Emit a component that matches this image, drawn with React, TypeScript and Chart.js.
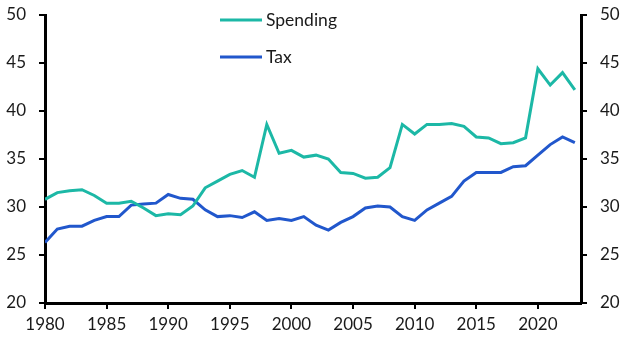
import React, { useEffect, useRef } from "react";
import { Chart, registerables } from "chart.js";

Chart.register(...registerables);

const years = [
  1980, 1981, 1982, 1983, 1984, 1985, 1986, 1987, 1988, 1989,
  1990, 1991, 1992, 1993, 1994, 1995, 1996, 1997, 1998, 1999,
  2000, 2001, 2002, 2003, 2004, 2005, 2006, 2007, 2008, 2009,
  2010, 2011, 2012, 2013, 2014, 2015, 2016, 2017, 2018, 2019,
  2020, 2021, 2022, 2023,
];

const spending = [
  30.8, 31.5, 31.7, 31.8, 31.2, 30.4, 30.4, 30.6, 29.9, 29.1,
  29.3, 29.2, 30.1, 32.0, 32.7, 33.4, 33.8, 33.1, 38.6, 35.6,
  35.9, 35.2, 35.4, 35.0, 33.6, 33.5, 33.0, 33.1, 34.1, 38.6,
  37.6, 38.6, 38.6, 38.7, 38.4, 37.3, 37.2, 36.6, 36.7, 37.2,
  44.4, 42.7, 44.0, 42.2,
];

const tax = [
  26.3, 27.7, 28.0, 28.0, 28.6, 29.0, 29.0, 30.2, 30.3, 30.4,
  31.3, 30.9, 30.8, 29.7, 29.0, 29.1, 28.9, 29.5, 28.6, 28.8,
  28.6, 29.0, 28.1, 27.6, 28.4, 29.0, 29.9, 30.1, 30.0, 29.0,
  28.6, 29.7, 30.4, 31.1, 32.7, 33.6, 33.6, 33.6, 34.2, 34.3,
  35.4, 36.5, 37.3, 36.7,
];

const xTickLabels = [1980, 1985, 1990, 1995, 2000, 2005, 2010, 2015, 2020];
const yTickLabels = [20, 25, 30, 35, 40, 45, 50];

const seriesNames = ["Spending", "Tax"];
const seriesColors = ["#1cb8a6", "#2157cc"];

const FONT = "Lato, 'Open Sans', sans-serif";

const legendPlugin = {
  id: "customLegend",
  afterDraw(chart: any) {
    const ctx = chart.ctx;
    ctx.save();
    const x0 = 220;
    const ys = [20, 57];
    seriesNames.forEach((name, i) => {
      ctx.strokeStyle = seriesColors[i];
      ctx.lineWidth = 3;
      ctx.beginPath();
      ctx.moveTo(x0, ys[i]);
      ctx.lineTo(x0 + 42, ys[i]);
      ctx.stroke();
      ctx.fillStyle = "#1a1a1a";
      ctx.font = `17.5px ${FONT}`;
      ctx.textBaseline = "middle";
      ctx.textAlign = "left";
      ctx.fillText(name, x0 + 46, ys[i]);
    });
    ctx.restore();
  },
};

export default function App() {
  const ref = useRef<HTMLCanvasElement>(null);

  useEffect(() => {
    if (!ref.current) return;
    const tickFilter = (allowed: number[]) => (scale: any) => {
      scale.ticks = allowed.map((v) => ({ value: v }));
    };
    const fitY = (w: number) => (s: any) => {
      s.width = w;
      s.paddingTop = 0;
      s.paddingBottom = 0;
    };
    const chart = new Chart(ref.current, {
      type: "line",
      data: {
        datasets: [
          {
            label: seriesNames[0],
            data: years.map((y, i) => ({ x: y, y: spending[i] })),
            borderColor: seriesColors[0],
            backgroundColor: seriesColors[0],
            borderWidth: 3,
            pointRadius: 0,
            tension: 0,
          },
          {
            label: seriesNames[1],
            data: years.map((y, i) => ({ x: y, y: tax[i] })),
            borderColor: seriesColors[1],
            backgroundColor: seriesColors[1],
            borderWidth: 3,
            pointRadius: 0,
            tension: 0,
          },
        ],
      },
      options: {
        responsive: false,
        animation: false,
        layout: { padding: { top: 15, left: 0, right: 0, bottom: 0 } },
        plugins: {
          legend: { display: false },
          tooltip: { enabled: false },
        },
        scales: {
          x: {
            type: "linear",
            min: 1980,
            max: 2023.5,
            afterBuildTicks: tickFilter(xTickLabels),
            afterFit: (s: any) => {
              s.height = 50;
              s.paddingLeft = 0;
              s.paddingRight = 0;
            },
            grid: {
              drawOnChartArea: false,
              drawTicks: true,
              tickLength: 6,
              color: "#000",
              lineWidth: 2,
            },
            border: { color: "#000", width: 3 },
            ticks: {
              color: "#1a1a1a",
              font: { family: FONT, size: 17 },
              padding: 5,
              maxRotation: 0,
              callback: (v: any) => String(v),
            },
          },
          y: {
            position: "left",
            min: 20,
            max: 50,
            afterBuildTicks: tickFilter(yTickLabels),
            afterFit: fitY(45),
            grid: {
              drawOnChartArea: false,
              drawTicks: true,
              tickLength: 6,
              color: "#000",
              lineWidth: 2,
            },
            border: { color: "#000", width: 3 },
            ticks: {
              color: "#1a1a1a",
              font: { family: FONT, size: 17 },
              padding: 13,
            },
          },
          y2: {
            position: "right",
            min: 20,
            max: 50,
            afterBuildTicks: tickFilter(yTickLabels),
            afterFit: fitY(48),
            grid: {
              drawOnChartArea: false,
              drawTicks: true,
              tickLength: 6,
              color: "#000",
              lineWidth: 2,
            },
            border: { color: "#000", width: 3 },
            ticks: {
              color: "#1a1a1a",
              font: { family: FONT, size: 17 },
              padding: 13,
            },
          },
        },
      },
      plugins: [legendPlugin],
    } as any);
    return () => chart.destroy();
  }, []);

  return (
    <div style={{ position: "absolute", left: 0, top: 0, width: 629, height: 353, background: "#fff" }}>
      <canvas ref={ref} width={629} height={353} style={{ width: 629, height: 353 }} />
    </div>
  );
}
